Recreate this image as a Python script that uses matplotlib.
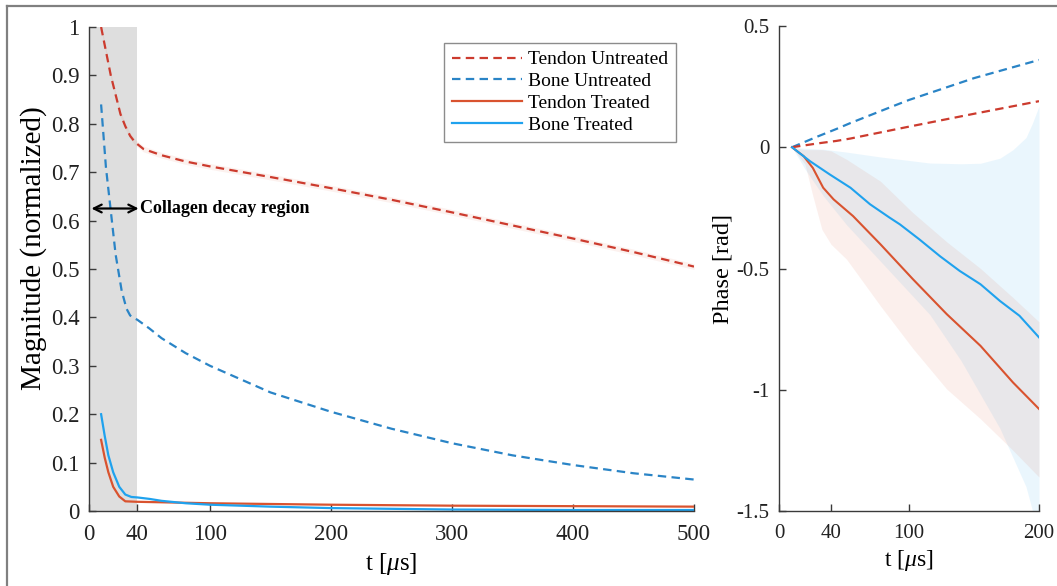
import numpy as np
import matplotlib
matplotlib.use("Agg")
import matplotlib.pyplot as plt
from matplotlib.lines import Line2D

plt.rcParams['font.family'] = ['Liberation Serif', 'DejaVu Serif']
plt.rcParams['mathtext.fontset'] = 'custom'
plt.rcParams['mathtext.rm'] = 'Liberation Serif'
plt.rcParams['mathtext.it'] = 'Liberation Serif:italic'

# ---- Magnitude data (normalized) ----
t_tendon_untr = [10, 14, 18, 22, 26, 30, 34, 38, 45, 60, 80, 100, 150, 200, 250, 300, 350, 400, 450, 500]
mag_tendon_untr = [1.0, 0.95, 0.90, 0.86, 0.82, 0.795, 0.775, 0.762, 0.748, 0.735, 0.722, 0.712,
                   0.69, 0.667, 0.643, 0.617, 0.59, 0.563, 0.535, 0.505]

t_bone_untr = [10, 14, 18, 22, 27, 31, 34, 37, 40, 50, 60, 80, 100, 150, 200, 250, 300, 350, 400, 450, 500]
mag_bone_untr = [0.84, 0.71, 0.62, 0.53, 0.455, 0.418, 0.404, 0.399, 0.395, 0.377, 0.357, 0.326, 0.30,
                 0.245, 0.205, 0.17, 0.14, 0.115, 0.095, 0.078, 0.065]

t_tendon_tr = [10, 13, 16, 20, 25, 30, 40, 100, 200, 300, 400, 500]
mag_tendon_tr = [0.147, 0.11, 0.08, 0.05, 0.03, 0.02, 0.019, 0.016, 0.013, 0.011, 0.010, 0.009]

t_bone_tr = [10, 13, 16, 20, 25, 30, 35, 40, 50, 60, 80, 100, 150, 200, 300, 400, 500]
mag_bone_tr = [0.20, 0.155, 0.115, 0.08, 0.05, 0.034, 0.029, 0.028, 0.025, 0.021, 0.016, 0.013,
               0.009, 0.006, 0.003, 0.002, 0.002]

# ---- Phase data [rad] ----
t_ph_untr = [10, 30, 44, 55, 88, 100, 150, 200]
ph_bone_untr = [0.0, 0.045, 0.075, 0.1, 0.17, 0.195, 0.285, 0.36]
ph_tendon_untr = [0.0, 0.016, 0.026, 0.036, 0.072, 0.085, 0.138, 0.19]

t_ph_bone_tr = [10, 24, 39, 55, 70, 85, 93, 108, 124, 139, 155, 170, 185, 200]
ph_bone_tr = [0.0, -0.058, -0.112, -0.167, -0.235, -0.29, -0.318, -0.38, -0.45, -0.51, -0.565,
              -0.634, -0.695, -0.784]

t_ph_tendon_tr = [10, 19, 26, 34, 42, 57, 78, 103, 129, 155, 180, 200]
ph_tendon_tr = [0.0, -0.037, -0.085, -0.167, -0.215, -0.284, -0.40, -0.544, -0.688, -0.819,
                -0.97, -1.079]

# spread bands of the treated phase curves
t_band_bone = [10, 20, 34, 52, 78, 116, 140, 155, 170, 180, 190, 195, 200]
bone_band_hi = [0.0, -0.004, -0.008, -0.02, -0.04, -0.065, -0.068, -0.066, -0.045, -0.01, 0.04, 0.1, 0.17]
bone_band_lo = [0.0, -0.09, -0.2, -0.32, -0.47, -0.69, -0.88, -1.02, -1.16, -1.28, -1.4, -1.5, -1.62]

t_band_tendon = [10, 20, 26, 33, 40, 52, 78, 103, 129, 155, 180, 200]
tendon_band_hi = [0.0, -0.01, -0.01, -0.01, -0.015, -0.05, -0.14, -0.27, -0.39, -0.5, -0.62, -0.72]
tendon_band_lo = [0.0, -0.07, -0.2, -0.339, -0.4, -0.462, -0.654, -0.83, -0.997, -1.12, -1.25, -1.36]

# ---- styling ----
c_red_dash = '#cc3b2e'
c_blue_dash = '#2a84c6'
c_red = '#d9532f'
c_blue = '#1fa2ee'
dash = (3.8, 2.4)
spine_col = '#3a3a3a'

W, H = 1057, 586
fig = plt.figure(figsize=(W / 100, H / 100), dpi=100)


def px_axes(l, t, r, b):
    return fig.add_axes([l / W, 1 - b / H, (r - l) / W, (b - t) / H])


def style(ax, fs):
    for s in ('top', 'right'):
        ax.spines[s].set_visible(False)
    for s in ('left', 'bottom'):
        ax.spines[s].set_color(spine_col)
        ax.spines[s].set_linewidth(1.0)
    ax.tick_params(direction='in', length=5, width=1.0, color=spine_col,
                   labelsize=fs, labelcolor='#222222')
    ax.tick_params(axis='x', pad=9)
    ax.tick_params(axis='y', pad=7)


# ---- left: magnitude ----
ax1 = px_axes(89, 27, 694, 511)
ax1.axvspan(0, 40, color='#dedede', zorder=0, lw=0)

ax1.fill_between(t_tendon_untr, np.array(mag_tendon_untr) - 0.006, np.array(mag_tendon_untr) + 0.006,
                 color=c_red, alpha=0.08, lw=0)
ax1.plot(t_tendon_untr, mag_tendon_untr, color=c_red_dash, lw=1.6, dashes=dash, label='Tendon Untreated')
ax1.plot(t_bone_untr, mag_bone_untr, color=c_blue_dash, lw=1.6, dashes=dash, label='Bone Untreated')
ax1.plot(t_tendon_tr, mag_tendon_tr, color=c_red, lw=1.6, label='Tendon Treated')
ax1.plot(t_bone_tr, mag_bone_tr, color=c_blue, lw=1.6, label='Bone Treated')

ax1.set_xlim(0, 500)
ax1.set_ylim(0, 1)
ax1.set_xticks([0, 40, 100, 200, 300, 400, 500])
ax1.set_yticks(np.round(np.arange(0, 1.01, 0.1), 1))
ax1.set_yticklabels(['0', '0.1', '0.2', '0.3', '0.4', '0.5', '0.6', '0.7', '0.8', '0.9', '1'])
style(ax1, 16.5)
ax1.set_xlabel(r't [$\mu$s]', fontsize=18, labelpad=5)
ax1.set_ylabel('Magnitude (normalized)', fontsize=21)
ax1.yaxis.set_label_coords(-0.07, 0.543)

ax1.annotate('', xy=(2, 0.625), xytext=(41, 0.625),
             arrowprops=dict(arrowstyle='<->', color='black', lw=1.6,
                             mutation_scale=14, shrinkA=0, shrinkB=0))
ax1.text(42.5, 0.625, 'Collagen decay region', fontsize=13, fontweight='bold',
         va='center', ha='left', color='black')

leg = ax1.legend(loc='upper right', bbox_to_anchor=(0.97, 0.967), borderaxespad=0,
                 fontsize=14, frameon=True, fancybox=False, handlelength=3.6,
                 handletextpad=0.3, labelspacing=0.22, borderpad=0.4)
leg.get_frame().set_edgecolor('#707070')
leg.get_frame().set_linewidth(1.0)

# ---- right: phase ----
ax2 = px_axes(779, 26, 1039, 511)
ax2.fill_between(t_band_bone, bone_band_lo, bone_band_hi, color=c_blue, alpha=0.09, lw=0)
ax2.fill_between(t_band_tendon, tendon_band_lo, tendon_band_hi, color=c_red, alpha=0.09, lw=0)
ax2.plot(t_ph_untr, ph_bone_untr, color=c_blue_dash, lw=1.6, dashes=dash)
ax2.plot(t_ph_untr, ph_tendon_untr, color=c_red_dash, lw=1.6, dashes=dash)
ax2.plot(t_ph_tendon_tr, ph_tendon_tr, color=c_red, lw=1.5)
ax2.plot(t_ph_bone_tr, ph_bone_tr, color=c_blue, lw=1.5)

ax2.set_xlim(0, 200)
ax2.set_ylim(-1.5, 0.5)
ax2.set_xticks([0, 40, 100, 200])
ax2.set_yticks([-1.5, -1, -0.5, 0, 0.5])
ax2.set_yticklabels(['-1.5', '-1', '-0.5', '0', '0.5'])
style(ax2, 15)
ax2.set_xlabel(r't [$\mu$s]', fontsize=17, labelpad=4)
ax2.set_ylabel('Phase [rad]', fontsize=17.5, labelpad=2)

# outer frame
fig.add_artist(Line2D([7 / W, 7 / W], [0, 1 - 6 / H], transform=fig.transFigure,
                      color='#808080', lw=1.6))
fig.add_artist(Line2D([7 / W, 1], [1 - 6 / H, 1 - 6 / H], transform=fig.transFigure,
                      color='#808080', lw=1.6))

fig.savefig('out.png', dpi=100)
